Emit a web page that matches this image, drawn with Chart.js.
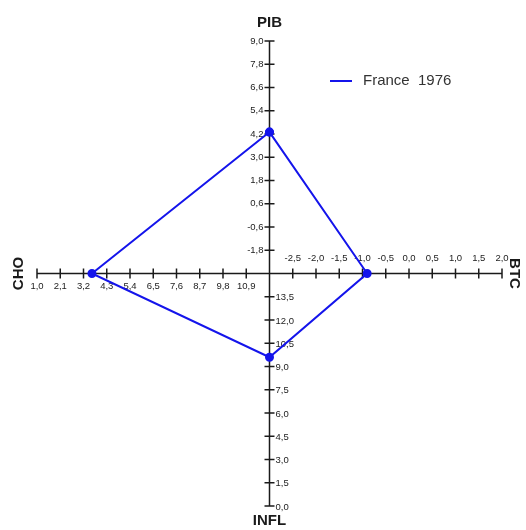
<!DOCTYPE html>
<html>
<head>
<meta charset="utf-8">
<script src="https://cdn.jsdelivr.net/npm/chart.js@4.4.0/dist/chart.umd.min.js"></script>
<style>
html,body{margin:0;padding:0;background:#fff;}
#wrap{width:526px;height:530px;position:relative;}
</style>
</head>
<body>
<div id="wrap"><canvas id="c"></canvas></div>
<script>
// ---- Data ----
const axisNames = ['PIB', 'BTC', 'INFL', 'CHO'];
const seriesLabel = 'France  1976';
const seriesValues = [4.3, -0.9, 9.6, 3.6]; // PIB, BTC, INFL, CHO

// axis ranges (value at centre, value at outer end)
const pibRange  = [-3.0, 9.0];
const btcRange  = [-3.0, 2.0];
const inflRange = [15.0, 0.0];
const choRange  = [12.0, 1.0];

// tick labels
const pibTicks  = [-1.8, -0.6, 0.6, 1.8, 3.0, 4.2, 5.4, 6.6, 7.8, 9.0];
const btcTicks  = [-2.5, -2.0, -1.5, -1.0, -0.5, 0.0, 0.5, 1.0, 1.5, 2.0];
const inflTicks = [0.0, 1.5, 3.0, 4.5, 6.0, 7.5, 9.0, 10.5, 12.0, 13.5];
const choTicks  = [1.0, 2.1, 3.2, 4.3, 5.4, 6.5, 7.6, 8.7, 9.8, 10.9];

// ---- axis definitions (direction in normalized space) ----
const axes = [
  {name: 'PIB',  range: pibRange,  ticks: pibTicks,  dir: [0, 1]},
  {name: 'BTC',  range: btcRange,  ticks: btcTicks,  dir: [1, 0]},
  {name: 'INFL', range: inflRange, ticks: inflTicks, dir: [0, -1]},
  {name: 'CHO',  range: choRange,  ticks: choTicks,  dir: [-1, 0]}
];
function toNorm(ax, v) {
  const f = (v - ax.range[0]) / (ax.range[1] - ax.range[0]);
  return {x: ax.dir[0] * f, y: ax.dir[1] * f};
}
const pts = seriesValues.map((v, i) => toNorm(axes[i], v));
pts.push(pts[0]);

const fmt = v => v.toFixed(1).replace('.', ',');

const axisPlugin = {
  id: 'magicSquare',
  beforeDatasetsDraw(chart) {
    const ctx = chart.ctx;
    const sx = chart.scales.x, sy = chart.scales.y;
    const cx = sx.getPixelForValue(0), cy = sy.getPixelForValue(0);
    ctx.save();
    ctx.strokeStyle = '#1a1a1a';
    ctx.lineWidth = 1.5;
    ctx.beginPath();
    ctx.moveTo(sx.getPixelForValue(-1), cy); ctx.lineTo(sx.getPixelForValue(1), cy);
    ctx.moveTo(cx, sy.getPixelForValue(1)); ctx.lineTo(cx, sy.getPixelForValue(-1));
    ctx.stroke();
    ctx.font = '9.5px "Liberation Sans", Arial, sans-serif';
    ctx.fillStyle = '#222';
    axes.forEach(ax => {
      ax.ticks.forEach(t => {
        const p = toNorm(ax, t);
        const px = sx.getPixelForValue(p.x), py = sy.getPixelForValue(p.y);
        ctx.beginPath();
        if (ax.dir[0] === 0) { ctx.moveTo(px - 5, py); ctx.lineTo(px + 5, py); }
        else { ctx.moveTo(px, py - 5); ctx.lineTo(px, py + 5); }
        ctx.stroke();
        const s = fmt(t);
        if (ax.name === 'PIB') { ctx.textAlign = 'right'; ctx.textBaseline = 'middle'; ctx.fillText(s, px - 6, py); }
        else if (ax.name === 'INFL') { ctx.textAlign = 'left'; ctx.textBaseline = 'middle'; ctx.fillText(s, px + 6, py + 1); }
        else if (ax.name === 'CHO') { ctx.textAlign = 'center'; ctx.textBaseline = 'middle'; ctx.fillText(s, px, py + 13); }
        else { ctx.textAlign = 'center'; ctx.textBaseline = 'middle'; ctx.fillText(s, px, py - 15); }
      });
    });
    // axis titles
    ctx.font = 'bold 15px "Liberation Sans", Arial, sans-serif';
    ctx.fillStyle = '#1a1a1a';
    ctx.textAlign = 'center'; ctx.textBaseline = 'middle';
    ctx.fillText(axisNames[0], cx, 23);
    ctx.fillText(axisNames[2], cx, 521);
    ctx.save(); ctx.translate(19, cy); ctx.rotate(-Math.PI / 2); ctx.fillText(axisNames[3], 0, 0); ctx.restore();
    ctx.save(); ctx.translate(514, cy); ctx.rotate(Math.PI / 2); ctx.fillText(axisNames[1], 0, 0); ctx.restore();
    // legend
    const ds = chart.data.datasets[0];
    ctx.strokeStyle = ds.borderColor; ctx.lineWidth = 2;
    ctx.beginPath(); ctx.moveTo(330, 81); ctx.lineTo(352, 81); ctx.stroke();
    ctx.font = '15px "Liberation Sans", Arial, sans-serif';
    ctx.fillStyle = '#333'; ctx.textAlign = 'left'; ctx.textBaseline = 'middle';
    ctx.fillText(ds.label, 363, 81);
    ctx.restore();
  }
};

new Chart(document.getElementById('c'), {
  type: 'scatter',
  data: {
    datasets: [{
      label: seriesLabel,
      data: pts,
      showLine: true,
      borderColor: 'rgb(20,20,235)',
      backgroundColor: 'rgb(20,20,235)',
      borderWidth: 2,
      pointRadius: 3.5,
      pointHoverRadius: 3.5,
      fill: false,
      tension: 0
    }]
  },
  options: {
    responsive: true,
    maintainAspectRatio: false,
    animation: false,
    layout: {padding: {left: 37, right: 24, top: 41, bottom: 24}},
    scales: {
      x: {type: 'linear', min: -1, max: 1, display: false},
      y: {type: 'linear', min: -1, max: 1, display: false}
    },
    plugins: {legend: {display: false}, tooltip: {enabled: false}}
  },
  plugins: [axisPlugin]
});
</script>
</body>
</html>
